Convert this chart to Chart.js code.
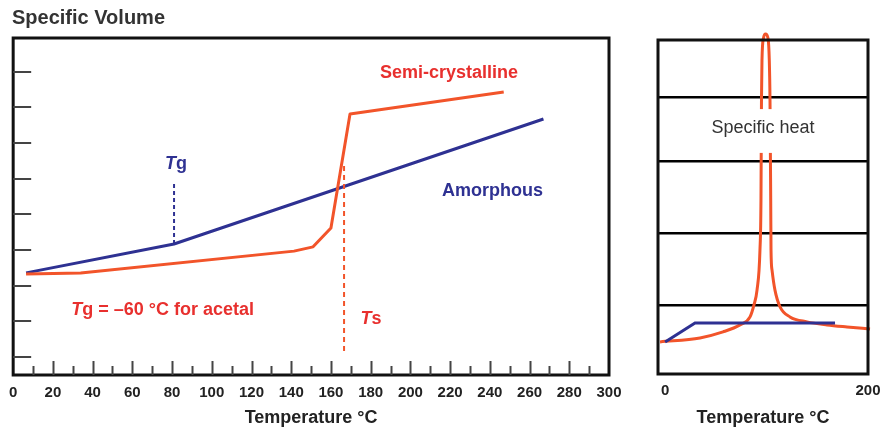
<!DOCTYPE html>
<html>
<head>
<meta charset="utf-8">
<script src="https://cdn.jsdelivr.net/npm/chart.js@4.4.1/dist/chart.umd.min.js"></script>
<style>
html, body { margin: 0; padding: 0; background: #fff; }
#wrap { position: relative; width: 896px; height: 430px; overflow: hidden; }
#vol { position: absolute; left: 0; top: 0; }
#heat { position: absolute; left: 640px; top: 0; }
</style>
</head>
<body>
<div id="wrap">
  <canvas id="vol" width="640" height="430"></canvas>
  <canvas id="heat" width="256" height="430"></canvas>
</div>
<script>
// specific volume chart (left)
var amorphTemp = [6.5, 81, 267];
var amorphVol = [2.86, 3.67, 7.17];
var semiTemp = [6.5, 34, 141.4, 151, 160, 169.6, 247];
var semiVol = [2.83, 2.86, 3.47, 3.59, 4.12, 7.31, 7.93];
var tgTemp = 81;
var tgDash = [3.67, 5.41];
var tsTemp = 166.6;
var tsDash = [0.67, 5.97];
var volTicks = [0, 20, 40, 60, 80, 100, 120, 140, 160, 180, 200, 220, 240, 260, 280, 300];

// specific heat chart (right)
var heatTemp = [-5, 34.4, 57.1, 73.8, 83.7, 87.6, 90.6, 93.5, 94.5, 95, 95.5, 97, 99, 101.4, 102.7, 103.4, 104.1, 104.4, 105.4, 108.3, 113.3, 123.1, 139.9, 159.6, 179.3, 202];
var heatVal = [0.96, 1.08, 1.26, 1.47, 1.71, 2.07, 2.51, 3.71, 5.21, 8.2, 9.4, 10.06, 10.18, 10.06, 9.4, 8.2, 5.21, 3.71, 3.11, 2.51, 2.01, 1.71, 1.56, 1.47, 1.41, 1.35];
var baseTemp = [0, 29.5, 167.5];
var baseVal = [0.96, 1.53, 1.53];
var heatGrid = [2.07, 4.22, 6.38, 8.29];
var heatTicks = [0, 200];

var FONT = '"Liberation Sans", Arial, sans-serif';
var BLUE = '#2e3192';
var RED = '#f2542a';
var TEXT_RED = '#e8302e';

function pts(xs, ys) {
    return xs.map(function(x, i) { return {x: x, y: ys[i]}; });
}

function writeRich(ctx, parts, x, y, align, color, size) {
    ctx.save();
    ctx.fillStyle = color;
    ctx.textBaseline = 'middle';
    ctx.textAlign = 'left';
    var fonts = parts.map(function(p) {
        return (p.italic ? 'italic ' : '') + (p.normal ? '' : 'bold ') + size + 'px ' + FONT;
    });
    var widths = parts.map(function(p, i) {
        ctx.font = fonts[i];
        return ctx.measureText(p.text).width;
    });
    var total = widths.reduce(function(a, b) { return a + b; }, 0);
    var cx = align === 'center' ? x - total / 2 : x;
    parts.forEach(function(p, i) {
        ctx.font = fonts[i];
        ctx.fillText(p.text, cx, y);
        cx += widths[i];
    });
    ctx.restore();
}

var frame = {
    id: 'frame',
    afterDraw: function(chart) {
        var a = chart.chartArea, ctx = chart.ctx;
        ctx.save();
        ctx.strokeStyle = '#111';
        ctx.lineWidth = 3;
        ctx.strokeRect(a.left, a.top, a.right - a.left, a.bottom - a.top);
        ctx.restore();
    }
};

var volNotes = [
    {parts: [{text: 'Semi-crystalline'}], t: 219.4, v: 8.47, color: TEXT_RED, align: 'center'},
    {parts: [{text: 'Amorphous'}], t: 241.3, v: 5.14, color: BLUE, align: 'center'},
    {parts: [{text: 'T', italic: true}, {text: 'g'}], t: 82, v: 5.91, color: BLUE, align: 'center'},
    {parts: [{text: 'T', italic: true}, {text: 'g = \u201360 \u00B0C for acetal'}], t: 29.2, v: 1.81, color: TEXT_RED, align: 'left'},
    {parts: [{text: 'T', italic: true}, {text: 's'}], t: 180.2, v: 1.58, color: TEXT_RED, align: 'center'}
];

var volMarks = {
    id: 'volMarks',
    afterDatasetsDraw: function(chart) {
        var ctx = chart.ctx, xs = chart.scales.x, ys = chart.scales.y;
        volNotes.forEach(function(n) {
            writeRich(ctx, n.parts, xs.getPixelForValue(n.t), ys.getPixelForValue(n.v), n.align, n.color, 18);
        });
    },
    afterDraw: function(chart) {
        var ctx = chart.ctx, xs = chart.scales.x, ys = chart.scales.y, a = chart.chartArea;
        ctx.save();
        ctx.strokeStyle = '#444';
        ctx.lineWidth = 2;
        ctx.beginPath();
        for (var t = 10; t < 300; t += 10) {
            var px = Math.round(xs.getPixelForValue(t)) + 0.5;
            ctx.moveTo(px, a.bottom);
            ctx.lineTo(px, a.bottom - (t % 20 === 0 ? 14 : 9));
        }
        for (var v = 0.5; v < 9; v += 1) {
            var py = Math.round(ys.getPixelForValue(v));
            ctx.moveTo(a.left, py);
            ctx.lineTo(a.left + 18, py);
        }
        ctx.stroke();
        ctx.restore();
    }
};

new Chart(document.getElementById('vol'), {
    type: 'line',
    data: {
        datasets: [
            {data: pts([tsTemp, tsTemp], tsDash), borderColor: RED, borderWidth: 2, borderDash: [5, 4]},
            {data: pts(semiTemp, semiVol), borderColor: RED, borderWidth: 3},
            {data: pts([tgTemp, tgTemp], tgDash), borderColor: BLUE, borderWidth: 2, borderDash: [4, 3]},
            {data: pts(amorphTemp, amorphVol), borderColor: BLUE, borderWidth: 3}
        ]
    },
    options: {
        responsive: false,
        animation: false,
        devicePixelRatio: 1,
        elements: {point: {radius: 0}, line: {tension: 0, borderJoinStyle: 'round'}},
        layout: {padding: {left: 12, right: 31, top: 0, bottom: 0}},
        plugins: {
            legend: {display: false},
            tooltip: {enabled: false},
            title: {
                display: true,
                text: 'Specific Volume',
                align: 'start',
                color: '#333',
                font: {family: FONT, size: 20, weight: 'bold'},
                padding: {top: 6, bottom: 8}
            }
        },
        scales: {
            x: {
                type: 'linear',
                min: 0,
                max: 300,
                afterBuildTicks: function(s) { s.ticks = volTicks.map(function(v) { return {value: v}; }); },
                afterFit: function(s) { s.height = 55; },
                grid: {display: false, drawTicks: false},
                border: {display: false},
                ticks: {autoSkip: false, maxRotation: 0, padding: 9, color: '#222', font: {family: FONT, size: 15, weight: 'bold'}},
                title: {display: true, text: 'Temperature \u00B0C', color: '#222', padding: {top: 0, bottom: 1}, font: {family: FONT, size: 18, weight: 'bold'}}
            },
            y: {display: false, min: 0, max: 9.44}
        }
    },
    plugins: [frame, volMarks]
});

var heatLabel = {
    id: 'heatLabel',
    afterDatasetsDraw: function(chart) {
        var ctx = chart.ctx, a = chart.chartArea, ys = chart.scales.y;
        var top = ys.getPixelForValue(heatGrid[3]) + 12;
        var bottom = ys.getPixelForValue(heatGrid[2]) - 8;
        var cx = (a.left + a.right) / 2;
        ctx.save();
        ctx.fillStyle = '#fff';
        ctx.fillRect(cx - 60, top, 120, bottom - top);
        ctx.restore();
        writeRich(ctx, [{text: 'Specific heat', normal: true}], cx, (top + bottom) / 2 - 3, 'center', '#333', 18);
    }
};

new Chart(document.getElementById('heat'), {
    type: 'line',
    data: {
        datasets: [
            {data: pts(baseTemp, baseVal), borderColor: BLUE, borderWidth: 3, tension: 0},
            {data: pts(heatTemp, heatVal), borderColor: RED, borderWidth: 3, cubicInterpolationMode: 'monotone'}
        ]
    },
    options: {
        responsive: false,
        animation: false,
        devicePixelRatio: 1,
        elements: {point: {radius: 0}},
        datasets: {line: {clip: false}},
        layout: {padding: {left: 18, right: 28, top: 40, bottom: 0}},
        plugins: {legend: {display: false}, tooltip: {enabled: false}},
        scales: {
            x: {
                type: 'linear',
                min: -7,
                max: 200,
                afterBuildTicks: function(s) { s.ticks = heatTicks.map(function(v) { return {value: v}; }); },
                afterFit: function(s) { s.height = 56; },
                grid: {display: false, drawTicks: false},
                border: {display: false},
                ticks: {autoSkip: false, maxRotation: 0, padding: 8, color: '#222', font: {family: FONT, size: 15, weight: 'bold'}},
                title: {display: true, text: 'Temperature \u00B0C', color: '#222', padding: {top: 0, bottom: 1}, font: {family: FONT, size: 18, weight: 'bold'}}
            },
            y: {
                min: 0,
                max: 10,
                afterBuildTicks: function(s) { s.ticks = heatGrid.map(function(v) { return {value: v}; }); },
                afterFit: function(s) { s.width = 0; },
                grid: {color: '#000', lineWidth: 2.5, drawTicks: false},
                border: {display: false},
                ticks: {display: false}
            }
        }
    },
    plugins: [frame, heatLabel]
});
</script>
</body>
</html>
